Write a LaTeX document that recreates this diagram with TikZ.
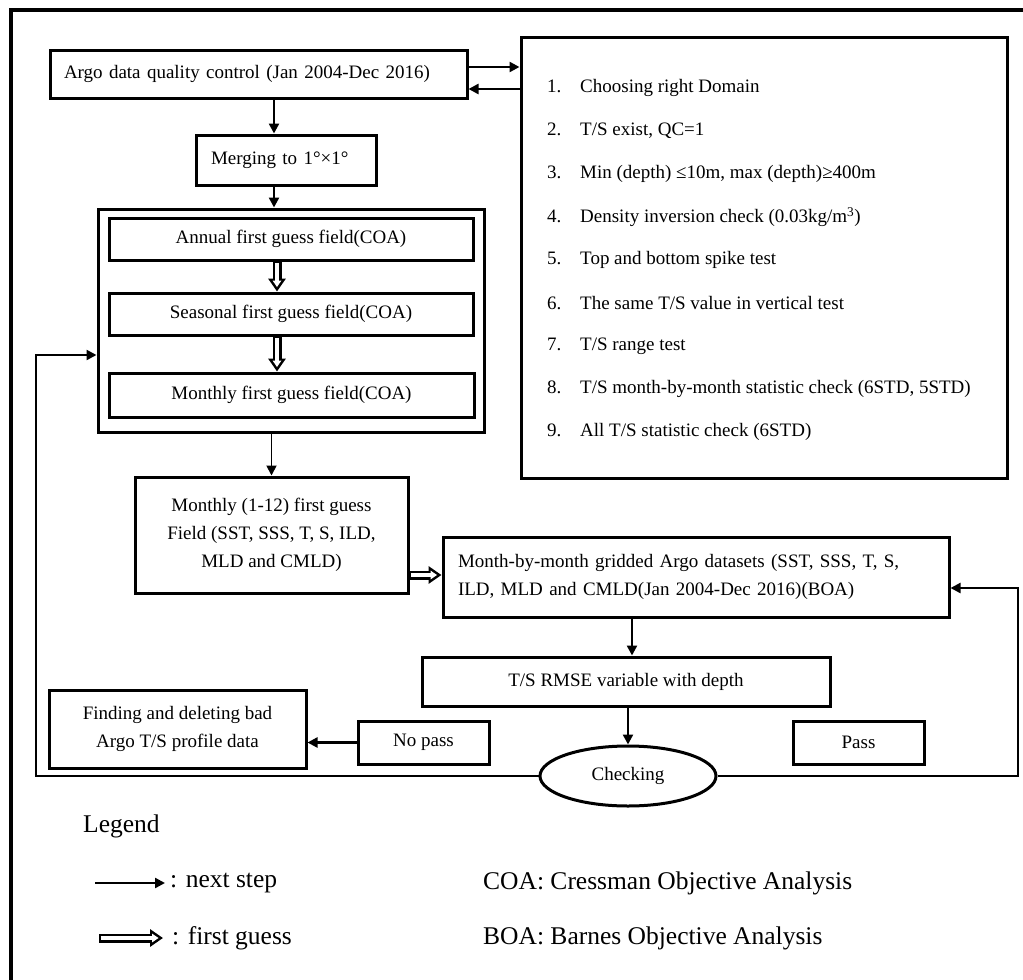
\documentclass[tikz,border=0pt]{standalone}
\usepackage{fontspec}
\setmainfont{Liberation Serif}
\usetikzlibrary{arrows.meta,shapes.geometric,calc}
\begin{document}
\begin{tikzpicture}[x=1pt,y=-1pt,
  bx/.style={draw, line width=3pt, inner sep=0pt, font=\fontsize{19}{28}\selectfont, align=center},
  arr/.style={line width=2.4pt, -{Triangle[length=10pt,width=10pt]}},
  dbl/.style={white, line width=3.6pt, shorten <=1.7pt, shorten >=4.4pt, -{Triangle[length=6.6pt,width=8.4pt]},
     preaction={draw=black, line width=9pt, shorten <=0pt, shorten >=0pt, -{Triangle[length=13pt,width=17pt]}}},
  txt/.style={font=\fontsize{19}{28}\selectfont, inner sep=0pt, anchor=west},
  leg/.style={font=\fontsize{25.5}{30}\selectfont, inner sep=0pt, anchor=west}
]
\useasboundingbox (0,0) rectangle (1023,980);
\clip (0,0) rectangle (1023,980);
% outer frame (cut by the page)
\draw[line width=3.4pt] (11,1010) -- (11,10) -- (1040,10);

% boxes
\node[bx, text width=389pt, inner xsep=14pt, minimum height=48pt, align=left] (A) at (258.5,74) {Argo data quality control (Jan 2004-Dec 2016)};
\node[bx, text width=150pt, inner xsep=15pt, minimum height=50pt, align=left] (merge) at (286,160) {Merging to 1°×1°};
\node[bx, minimum width=386pt, minimum height=223pt] (group) at (291,320.5) {};
\node[bx, minimum width=364pt, minimum height=42pt] (annual) at (291,239) {Annual first guess field(COA)};
\node[bx, minimum width=364pt, minimum height=42pt] (seasonal) at (291,314) {Seasonal first guess field(COA)};
\node[bx, minimum width=365pt, minimum height=44pt] (monthly) at (291.5,395) {Monthly first guess field(COA)};
\node[bx, minimum width=486pt, minimum height=441pt] (qc) at (764,257.5) {};
\node[bx, minimum width=273pt, minimum height=116pt] (m12) at (271.5,535) {Monthly (1-12) first guess\\Field (SST, SSS, T, S, ILD,\\MLD and CMLD)};
\node[bx, text width=476pt, inner xsep=15pt, minimum height=80pt, align=left] (mbm) at (696,577) {\makebox[476pt][s]{Month-by-month gridded Argo datasets (SST, SSS, T, S,}\\ILD, MLD and CMLD(Jan 2004-Dec 2016)(BOA)};
\node[bx, minimum width=408pt, minimum height=49pt] (rmse) at (626,681.5) {T/S RMSE variable with depth};
\node[bx, minimum width=257pt, minimum height=78pt] (finding) at (177.5,729) {Finding and deleting bad\\Argo T/S profile data};
\node[bx, minimum width=131pt, minimum height=43pt] (nopass) at (423.5,742.5) {No pass};
\node[bx, minimum width=131pt, minimum height=43pt] (pass) at (858.5,742.5) {Pass};
\node[bx, ellipse, line width=3pt, minimum width=176pt, minimum height=60pt] (chk) at (628,776) {Checking};

% list in QC box
\node[txt] (q1) at (547,88) {\makebox[33pt][l]{1.}Choosing right Domain};
\node[txt] (q2) at (547,131) {\makebox[33pt][l]{2.}T/S exist, QC=1};
\node[txt] (q3) at (547,174) {\makebox[33pt][l]{3.}Min (depth) ≤10m, max (depth)≥400m};
\node[txt] (q4) at (547,217) {\makebox[33pt][l]{4.}Density inversion check (0.03kg/m\textsuperscript{3})};
\node[txt] (q5) at (547,260) {\makebox[33pt][l]{5.}Top and bottom spike test};
\node[txt] (q6) at (547,303) {\makebox[33pt][l]{6.}The same T/S value in vertical test};
\node[txt] (q7) at (547,346) {\makebox[33pt][l]{7.}T/S range test};
\node[txt] (q8) at (547,389) {\makebox[33pt][l]{8.}T/S month-by-month statistic check (6STD, 5STD)};
\node[txt] (q9) at (547,432) {\makebox[33pt][l]{9.}All T/S statistic check (6STD)};

% helper coordinates
\coordinate (y1) at (0,67);
\coordinate (y2) at (0,89);
\coordinate (xm) at (274,0);
\coordinate (xf) at (277,0);
\coordinate (xd) at (0,575);
\coordinate (xr) at (632,0);
\coordinate (fbL) at (36,355);
\coordinate (fbR) at (1018,588);

% connectors
\draw[arr] (A.east |- y1) -- (qc.west |- y1);
\draw[arr] (qc.west |- y2) -- (A.east |- y2);
\draw[arr] (A.south -| xm) -- (merge.north -| xm);
\draw[arr] (merge.south -| xm) -- (group.north -| xm);
\draw[dbl] (annual.south -| xf) -- (seasonal.north -| xf);
\draw[dbl] (seasonal.south -| xf) -- (monthly.north -| xf);
\draw[arr, line width=1.8pt] (group.south -| m12.north) -- (m12.north);
\draw[dbl] (m12.east |- xd) -- (mbm.west |- xd);
\draw[arr] (mbm.south -| xr) -- (rmse.north -| xr);
\draw[arr] (rmse.south -| chk.north) -- (chk.north);
\draw[arr] (nopass.west) -- (nopass.west -| finding.east);
\draw[arr, line width=2.2pt] (chk.west) -| (fbL) -- (fbL -| group.west);
\draw[arr, line width=2.2pt] (chk.east) -| (fbR) -- (fbR -| mbm.east);

% legend
\node[leg] (legend) at (83,826) {Legend};
\coordinate (la1) at (95,883);
\coordinate (la2) at (165,883);
\draw[arr] (la1) -- (la2);
\node[leg] (ns) at (170,883) {: next step};
\coordinate (lb1) at (99,938);
\coordinate (lb2) at (163,938);
\draw[dbl] (lb1) -- (lb2);
\node[leg] (fg) at (172,938) {: first guess};
\node[leg] (coa) at (483,883) {COA: Cressman Objective Analysis};
\node[leg] (boa) at (483,938) {BOA: Barnes Objective Analysis};
\end{tikzpicture}
\end{document}
